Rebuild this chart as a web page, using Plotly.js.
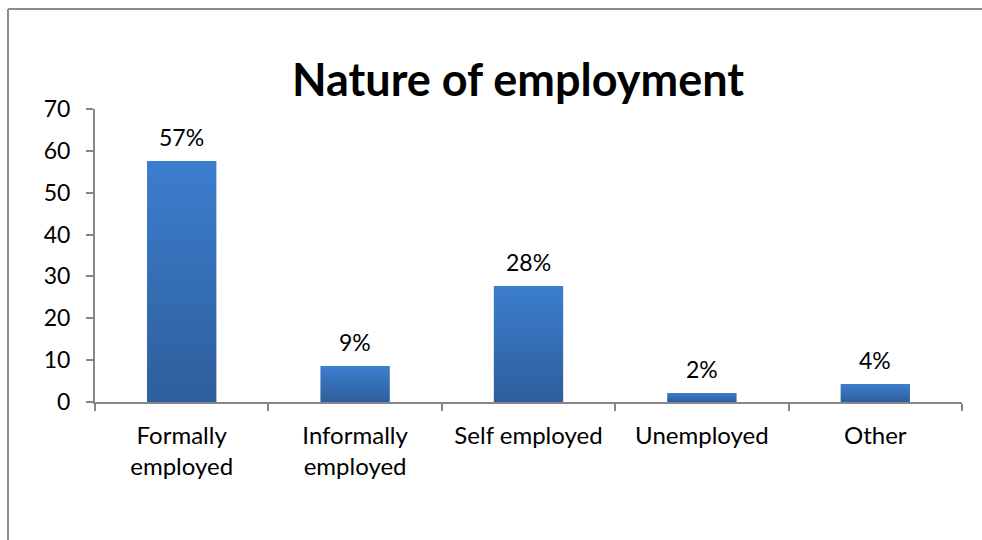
<!DOCTYPE html>
<html>
<head>
<meta charset="utf-8">
<script src="https://cdn.plot.ly/plotly-3.0.1.min.js"></script>
<style>html,body{margin:0;padding:0;background:#fff;overflow:hidden;}#chart{width:982px;height:540px;overflow:hidden;}</style>
</head>
<body>
<div id="chart"></div>
<script>
var categories = ["Formally<br>employed", "Informally<br>employed", "Self employed", "Unemployed", "Other"];
var values = [57.6, 8.6, 27.7, 2.15, 4.3];
var labels = ["57%", "9%", "28%", "2%", "4%"];
var yTicks = [0, 10, 20, 30, 40, 50, 60, 70];

var font = "Lato, 'Open Sans', sans-serif";
var axisColor = "#868686";

var trace = {
  type: "bar",
  x: categories,
  y: values,
  marker: {color: "#3570b9", line: {width: 0}},
  hoverinfo: "none"
};

var annotations = categories.map(function (c, i) {
  return {
    x: c, y: values[i], xref: "x", yref: "y",
    text: labels[i], showarrow: false,
    yanchor: "bottom", yshift: 8,
    font: {family: font, size: 23, color: "#000"}
  };
});

var fx0 = (8 - 95) / 867, fx1 = (1100 - 95) / 867;
var fy0 = (402 - 600) / 293, fy1 = 1 + (109 - 9) / 293;
var frameLine = {color: "#8c8c8c", width: 2};

var layout = {
  width: 982, height: 540,
  margin: {l: 95, r: 20, t: 109, b: 138},
  paper_bgcolor: "#fff", plot_bgcolor: "#fff",
  bargap: 0.6,
  showlegend: false,
  title: {
    text: "<b>Nature of employment</b>",
    font: {family: font, size: 45, color: "#000"},
    x: 518/982, xanchor: "center",
    y: 1 - 80/540, yanchor: "middle"
  },
  xaxis: {
    type: "category",
    showline: true, linecolor: axisColor, linewidth: 2,
    ticks: "outside", tickson: "boundaries", ticklen: 7, tickcolor: axisColor, tickwidth: 2,
    tickfont: {family: font, size: 24, color: "#000"},
    ticklabelstandoff: 11,
    showgrid: false, zeroline: false, fixedrange: true
  },
  yaxis: {
    range: [0, 70],
    tickvals: yTicks,
    ticktext: yTicks.map(String),
    showline: true, linecolor: axisColor, linewidth: 2,
    ticks: "outside", ticklen: 7, tickcolor: axisColor, tickwidth: 2,
    tickfont: {family: font, size: 23, color: "#000"},
    ticklabelstandoff: 11,
    showgrid: false, zeroline: false, fixedrange: true
  },
  annotations: annotations,
  shapes: [
    {type: "line", xref: "paper", yref: "paper", x0: fx0, x1: fx0, y0: fy0, y1: fy1, line: frameLine, layer: "below"},
    {type: "line", xref: "paper", yref: "paper", x0: fx0, x1: fx1, y0: fy1, y1: fy1, line: frameLine, layer: "below"}
  ]
};

Plotly.newPlot("chart", [trace], layout, {staticPlot: true, displayModeBar: false}).then(function (gd) {
  var svg = gd.querySelector("svg.main-svg");
  var ns = "http://www.w3.org/2000/svg";
  var defs = svg.querySelector("defs") || svg.insertBefore(document.createElementNS(ns, "defs"), svg.firstChild);
  var g = document.createElementNS(ns, "linearGradient");
  g.setAttribute("id", "barGrad");
  g.setAttribute("x1", "0"); g.setAttribute("y1", "0");
  g.setAttribute("x2", "0"); g.setAttribute("y2", "1");
  [["0", "#3c7ecf"], ["1", "#2e5e9b"]].forEach(function (s) {
    var st = document.createElementNS(ns, "stop");
    st.setAttribute("offset", s[0]);
    st.setAttribute("stop-color", s[1]);
    g.appendChild(st);
  });
  defs.appendChild(g);
  gd.querySelectorAll(".barlayer .point path").forEach(function (p) {
    p.style.fill = "url(#barGrad)";
  });
});
</script>
</body>
</html>
